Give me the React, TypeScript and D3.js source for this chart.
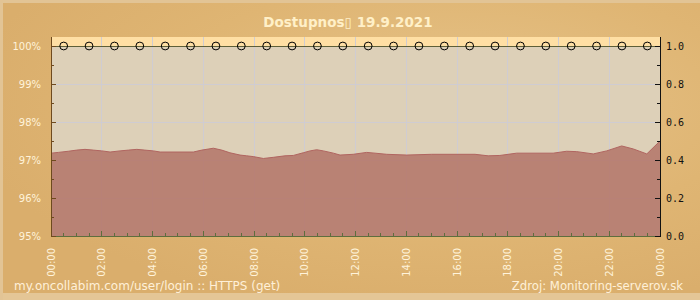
import React from "react";
import * as d3 from "d3";

const W = 700;
const H = 300;

// availability series (hour of day, percent)
const hours = [0, 0.29, 0.68, 1.01, 1.34, 1.67, 2.0, 2.33, 2.72, 3.05, 3.38, 3.7, 4.03, 4.3, 5.61, 5.94, 6.4, 6.73, 7.05, 7.45, 7.71, 7.97, 8.37, 8.76, 9.22, 9.55, 9.94, 10.21, 10.47, 10.73, 11.13, 11.39, 11.91, 12.44, 12.77, 13.23, 14.02, 15.0, 16.71, 17.23, 17.69, 18.35, 19.79, 20.32, 20.72, 21.37, 21.9, 22.49, 22.95, 23.48, 24.0];
const values = [97.18, 97.2, 97.23, 97.26, 97.28, 97.26, 97.24, 97.21, 97.24, 97.26, 97.28, 97.26, 97.24, 97.21, 97.21, 97.26, 97.31, 97.26, 97.19, 97.13, 97.11, 97.09, 97.04, 97.07, 97.11, 97.12, 97.19, 97.24, 97.27, 97.24, 97.18, 97.13, 97.15, 97.2, 97.18, 97.15, 97.13, 97.15, 97.15, 97.11, 97.12, 97.18, 97.18, 97.23, 97.22, 97.16, 97.24, 97.37, 97.29, 97.16, 97.5];

// hourly status markers (right axis)
const markerHours = [0.5, 1.5, 2.5, 3.5, 4.5, 5.5, 6.5, 7.5, 8.5, 9.5, 10.5, 11.5, 12.5, 13.5, 14.5, 15.5, 16.5, 17.5, 18.5, 19.5, 20.5, 21.5, 22.5, 23.5];
const markerValues = [1, 1, 1, 1, 1, 1, 1, 1, 1, 1, 1, 1, 1, 1, 1, 1, 1, 1, 1, 1, 1, 1, 1, 1];

const xTickHours = [0, 2, 4, 6, 8, 10, 12, 14, 16, 18, 20, 22, 24];
const xTickLabels = ["00:00", "02:00", "04:00", "06:00", "08:00", "10:00", "12:00", "14:00", "16:00", "18:00", "20:00", "22:00", "00:00"];
const yTickValues = [95, 96, 97, 98, 99, 100];
const yTickLabels = ["95%", "96%", "97%", "98%", "99%", "100%"];
const rTickValues = [0, 0.2, 0.4, 0.6, 0.8, 1.0];
const rTickLabels = ["0.0", "0.2", "0.4", "0.6", "0.8", "1.0"];

const title = "Dostupnos\u25AF 19.9.2021";
const footerLeft = "my.oncollabim.com/user/login :: HTTPS (get)";
const footerRight = "Zdroj: Monitoring-serverov.sk";

export default function App() {
  const left = 51, right = 660, top = 37, bottom = 236;
  const x = d3.scaleLinear().domain([0, 24]).range([left, right]);
  const y = d3.scaleLinear().domain([95, 100]).range([bottom, 46]);
  const yR = d3.scaleLinear().domain([0, 1]).range([bottom, 46]);

  const pts = hours.map((h, i) => [h, values[i]] as [number, number]);
  const area = d3.area<[number, number]>().x(d => x(d[0])).y0(bottom).y1(d => y(d[1]))(pts) || "";
  const line = d3.line<[number, number]>().x(d => x(d[0])).y(d => y(d[1]))(pts) || "";

  const minorX = d3.range(0, 24.01, 0.5);
  const minorY = d3.range(95, 100.01, 0.5);
  const minorR = d3.range(0, 1.001, 0.1);

  const sans = "'DejaVu Sans', sans-serif";
  const cream = "#FFF3DA";

  return (
    <svg width={W} height={H} style={{ position: "absolute", left: 0, top: 0 }}>
      <defs>
        <radialGradient id="bg" cx="0.65" cy="0.35" r="0.7">
          <stop offset="0" stopColor="#E6C389" />
          <stop offset="0.6" stopColor="#DFB573" />
          <stop offset="1" stopColor="#DAAE6C" />
        </radialGradient>
      </defs>
      <rect x={0} y={0} width={W} height={H} fill="url(#bg)" />
      <rect x={0} y={0} width={W} height={3} fill="#E2C495" />
      <rect x={0} y={H - 7} width={W} height={7} fill="#E4C696" />
      <rect x={0} y={0} width={3} height={H} fill="#E2C495" />

      <text x={348} y={27} textAnchor="middle" fontFamily={sans} fontWeight="bold" fontSize={13.5} fill="#FFF0C8">{title}</text>

      {/* plot background */}
      <rect x={left} y={top} width={right - left} height={bottom - top} fill="#DDD0B8" />
      <rect x={left} y={top} width={right - left} height={46 - top} fill="#FFDFA4" />

      {/* grid */}
      {xTickHours.slice(1, -1).map((h, i) => (
        <line key={"gx" + i} x1={x(h)} x2={x(h)} y1={top} y2={bottom} stroke="#CFCCD2" strokeWidth={1} shapeRendering="crispEdges" />
      ))}
      {yTickValues.slice(1, -1).map((v, i) => (
        <line key={"gy" + i} x1={left} x2={right} y1={y(v)} y2={y(v)} stroke="#CFCCD2" strokeWidth={1} shapeRendering="crispEdges" />
      ))}

      {/* area */}
      <path d={area} fill="#B5796D" fillOpacity={0.9} />
      <path d={line} fill="none" stroke="#B06560" strokeWidth={1} />

      {/* status line with markers */}
      <line x1={left} x2={right} y1={yR(1)} y2={yR(1)} stroke="#5E5F38" strokeWidth={1} shapeRendering="crispEdges" />
      {markerHours.map((h, i) => (
        <circle key={"m" + i} cx={x(h)} cy={yR(markerValues[i])} r={3.9} fill="none" stroke="#000" strokeWidth={1} />
      ))}

      {/* axes */}
      <line x1={left} x2={right} y1={bottom + 0.5} y2={bottom + 0.5} stroke="#5E6E3E" strokeWidth={1} />
      {minorX.map((h, i) => (
        <line key={"tx" + i} x1={x(h)} x2={x(h)} y1={bottom} y2={bottom - (h % 2 === 0 ? 5 : 3)} stroke="#5E6E3E" strokeWidth={1} shapeRendering="crispEdges" />
      ))}
      <line x1={left + 0.5} x2={left + 0.5} y1={top} y2={bottom + 1} stroke="#6E4A1E" strokeWidth={1} />
      {minorY.map((v, i) => (
        <line key={"ty" + i} x1={left} x2={left + (Math.abs(v - Math.round(v)) < 0.01 ? 5 : 3)} y1={y(v)} y2={y(v)} stroke="#6E4A1E" strokeWidth={1} shapeRendering="crispEdges" />
      ))}
      <line x1={right + 0.5} x2={right + 0.5} y1={top} y2={bottom + 1} stroke="#111" strokeWidth={1} />
      {minorR.map((v, i) => (
        <line key={"tr" + i} x1={right} x2={right - (i % 2 === 0 ? 5 : 3)} y1={yR(v)} y2={yR(v)} stroke="#111" strokeWidth={1} shapeRendering="crispEdges" />
      ))}

      {/* labels */}
      {yTickValues.map((v, i) => (
        <text key={"ly" + i} x={41} y={y(v)} dy="0.36em" textAnchor="end" fontFamily={sans} fontSize={10} fill={cream}>{yTickLabels[i]}</text>
      ))}
      {rTickValues.map((v, i) => (
        <text key={"lr" + i} x={666} y={yR(v)} dy="0.36em" fontFamily="'DejaVu Sans Mono', monospace" fontSize={10} fill="#111">{rTickLabels[i]}</text>
      ))}
      {xTickHours.map((h, i) => (
        <text key={"lx" + i} transform={`translate(${x(h) + 3.5},248) rotate(-90)`} textAnchor="end" fontFamily={sans} fontSize={10} fill={cream}>{xTickLabels[i]}</text>
      ))}

      <text x={14} y={290} fontFamily={sans} fontSize={12} fill="#FFF0D8">{footerLeft}</text>
      <text x={683} y={290} textAnchor="end" fontFamily={sans} fontSize={11.7} fill="#FFF0D8">{footerRight}</text>
    </svg>
  );
}
